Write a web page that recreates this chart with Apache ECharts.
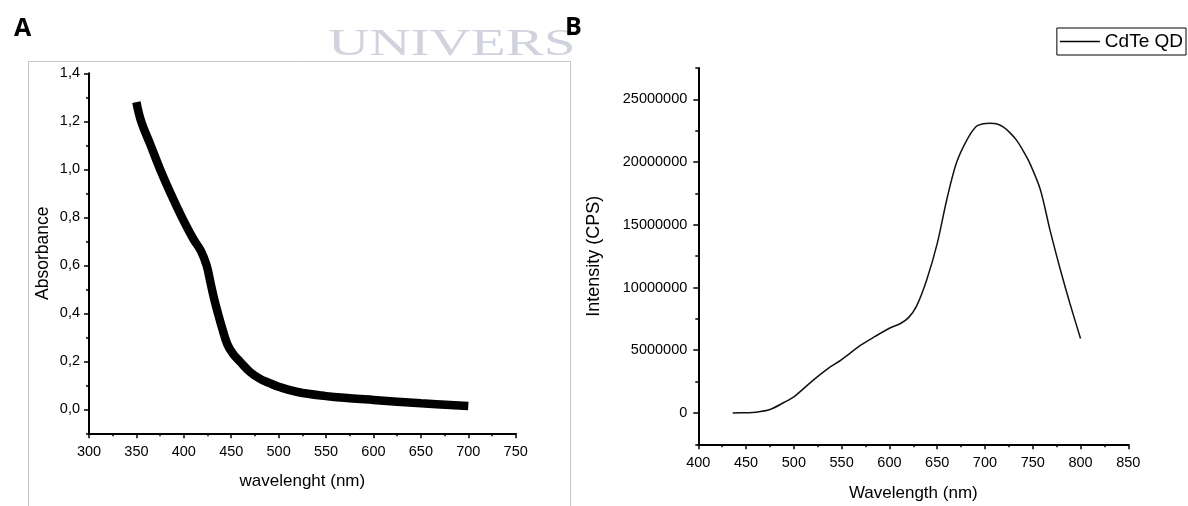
<!DOCTYPE html>
<html>
<head>
<meta charset="utf-8">
<script src="https://cdn.jsdelivr.net/npm/echarts@6/dist/echarts.min.js"></script>
<style>
  html, body { margin: 0; padding: 0; background: #fff; }
  #main { width: 1188px; height: 506px; }
</style>
</head>
<body>
<div id="main"></div>
<script>
// panel A: absorbance spectrum
const absWavelength = [350, 355, 365, 375, 386, 398, 410, 418, 424, 428, 432, 436, 441, 446, 452, 459, 470, 480, 490, 500, 520, 550, 575, 600, 650, 700]
const absValues = [1.28, 1.2, 1.1, 1.0, 0.9, 0.8, 0.71, 0.66, 0.6, 0.53, 0.46, 0.4, 0.33, 0.27, 0.23, 0.2, 0.155, 0.128, 0.11, 0.094, 0.072, 0.055, 0.046, 0.039, 0.025, 0.014]
const absTicks = [0, 0.2, 0.4, 0.6, 0.8, 1.0, 1.2, 1.4]

// panel B: emission spectrum
const plWavelength = [436, 450, 460, 475, 490, 500, 520, 535, 550, 570, 585, 600, 612, 620, 628, 639, 650, 660, 670, 681, 691, 698, 705, 712, 719, 726, 733, 740, 747, 758, 768, 779, 789, 800]
const plIntensity = [0, 20000, 50000, 270000, 850000, 1280000, 2600000, 3500000, 4250000, 5400000, 6100000, 6750000, 7150000, 7600000, 8450000, 10600000, 13500000, 17000000, 19900000, 21750000, 22850000, 23050000, 23100000, 23050000, 22800000, 22350000, 21750000, 20900000, 19900000, 17800000, 14600000, 11400000, 8700000, 5930000]
const plTicks = [0, 5000000, 10000000, 15000000, 20000000, 25000000]

const FONT = 'Liberation Sans, Arial, sans-serif'

const zip = (xs, ys) => xs.map((x, i) => [x, ys[i]])

// x axis with minor ticks
const xAxisOf = (grid, min, max, name, gap) => ({
  gridIndex: grid,
  type: 'value',
  min: min,
  max: max,
  interval: 50,
  name: name,
  nameLocation: 'middle',
  nameGap: gap,
  nameTextStyle: { fontFamily: FONT, fontSize: 17, color: '#000' },
  axisLine: { onZero: false, lineStyle: { color: '#000', width: 2 } },
  axisTick: { length: 5, lineStyle: { color: '#000', width: 1.5 } },
  minorTick: { show: true, splitNumber: 2, length: 3, lineStyle: { color: '#000', width: 1.5 } },
  axisLabel: { margin: 11, fontFamily: FONT, fontSize: 14.5, color: '#000' },
  splitLine: { show: false }
})

let chart = echarts.init(document.getElementById('main'))

let options = {
  animation: false,
  backgroundColor: '#fff',
  grid: [
    { left: 89, top: 73.3, width: 426.7, height: 360, containLabel: false, outerBoundsMode: 'none' },
    { left: 698.3, top: 68, width: 430, height: 376.3, containLabel: false, outerBoundsMode: 'none' }
  ],
  legend: {
    data: [{ name: 'CdTe QD', icon: 'rect' }],
    right: 2,
    top: 28,
    orient: 'horizontal',
    borderColor: '#000',
    borderWidth: 1,
    borderRadius: 0,
    padding: [4, 3, 4, 3],
    itemWidth: 40,
    itemHeight: 1.5,
    itemGap: 4,
    selectedMode: false,
    itemStyle: { color: '#000' },
    textStyle: { fontFamily: FONT, fontSize: 19, color: '#000', padding: [0, 0, 0, 0] }
  },
  xAxis: [
    xAxisOf(0, 300, 750, 'wavelenght (nm)', 40),
    xAxisOf(1, 400, 850, 'Wavelength (nm)', 41)
  ],
  yAxis: [
    // A major ticks
    {
      gridIndex: 0, type: 'value', min: -0.1, max: 1.4,
      name: 'Absorbance', nameLocation: 'middle', nameGap: 37,
      nameTextStyle: { fontFamily: FONT, fontSize: 17.5, color: '#000' },
      axisLine: { show: true, onZero: false, lineStyle: { color: '#000', width: 2 } },
      axisTick: { length: 5, customValues: absTicks, lineStyle: { color: '#000', width: 1.5 } },
      axisLabel: {
        margin: 9, fontFamily: FONT, fontSize: 14.5, color: '#000', customValues: absTicks,
        formatter: v => v.toFixed(1).replace('.', ',')
      },
      splitLine: { show: false }
    },
    // A minor ticks
    {
      gridIndex: 0, type: 'value', min: -0.1, max: 1.4, interval: 0.1, position: 'left',
      axisLine: { show: false }, axisLabel: { show: false }, splitLine: { show: false },
      axisTick: { length: 3, lineStyle: { color: '#000', width: 1.5 } }
    },
    // B major ticks
    {
      gridIndex: 1, type: 'value', min: -2500000, max: 27500000,
      name: 'Intensity (CPS)', nameLocation: 'middle', nameGap: 95,
      nameTextStyle: { fontFamily: FONT, fontSize: 18, color: '#000' },
      axisLine: { show: true, onZero: false, lineStyle: { color: '#000', width: 2 } },
      axisTick: { length: 5, customValues: plTicks, lineStyle: { color: '#000', width: 1.5 } },
      axisLabel: {
        margin: 11, fontFamily: FONT, fontSize: 14.5, color: '#000', customValues: plTicks,
        formatter: v => String(v)
      },
      splitLine: { show: false }
    },
    // B minor ticks
    {
      gridIndex: 1, type: 'value', min: -2500000, max: 27500000, interval: 2500000, position: 'left',
      axisLine: { show: false }, axisLabel: { show: false }, splitLine: { show: false },
      axisTick: { length: 3, lineStyle: { color: '#000', width: 1.5 } }
    }
  ],
  series: [
    {
      name: 'Absorbance',
      type: 'line',
      xAxisIndex: 0,
      yAxisIndex: 0,
      data: zip(absWavelength, absValues),
      smooth: 0.4,
      showSymbol: false,
      symbol: 'none',
      lineStyle: { color: '#000', width: 8.5 }
    },
    {
      name: 'CdTe QD',
      type: 'line',
      xAxisIndex: 1,
      yAxisIndex: 2,
      data: zip(plWavelength, plIntensity),
      smooth: 0.3,
      showSymbol: false,
      symbol: 'none',
      lineStyle: { color: '#111', width: 1.5 },
      itemStyle: { color: '#000' }
    }
  ],
  graphic: [
    // frame around panel A
    {
      type: 'rect', z: -10, silent: true,
      shape: { x: 28.5, y: 61.5, width: 542, height: 470 },
      style: { fill: 'none', stroke: '#c4c4c4', lineWidth: 1 }
    },
    // watermark behind the panels
    {
      type: 'text', z: -20, silent: true, x: 328, y: 45, scaleX: 1.36, scaleY: 0.9,
      style: {
        text: 'UNIVERS', fontFamily: 'Liberation Serif, serif', fontSize: 42,
        fill: '#d0d2de', verticalAlign: 'middle', align: 'left'
      }
    },
    {
      type: 'text', z: 10, silent: true, x: 14, y: 29,
      style: { text: 'A', fontFamily: 'Open Sans, sans-serif', fontWeight: 'bold', fontSize: 25, fill: '#000', verticalAlign: 'middle' }
    },
    {
      type: 'text', z: 10, silent: true, x: 565, y: 28,
      style: { text: 'B', fontFamily: 'Open Sans, sans-serif', fontWeight: 'bold', fontSize: 25, fill: '#000', verticalAlign: 'middle' }
    }
  ]
}

chart.setOption(options)
</script>
</body>
</html>
